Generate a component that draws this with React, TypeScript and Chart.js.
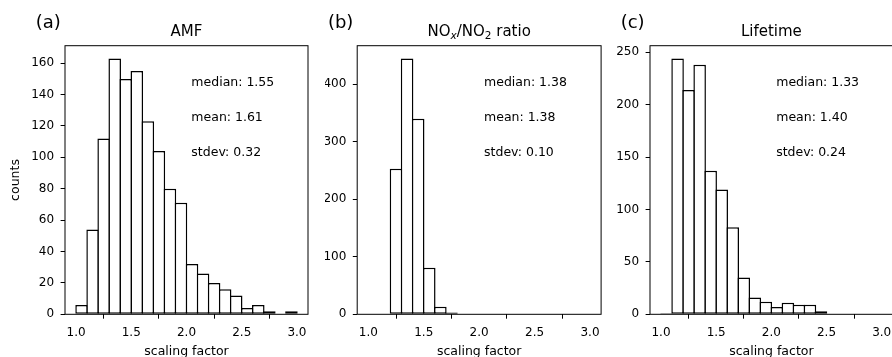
import React, { useEffect, useRef } from "react";
import { Chart, registerables } from "chart.js";

Chart.register(...registerables);

// Histogram bins (width 0.1) and their counts
const binCenters = [
  1.05, 1.15, 1.25, 1.35, 1.45, 1.55, 1.65, 1.75, 1.85, 1.95,
  2.05, 2.15, 2.25, 2.35, 2.45, 2.55, 2.65, 2.75, 2.85, 2.95,
];
const amfCounts = [6, 54, 112, 163, 150, 155, 123, 104, 80, 71, 32, 26, 20, 16, 12, 4, 6, 2, 0, 2];
const ratioCounts = [0, 0, 253, 445, 340, 81, 13, 3, 1, 1, 0, 0, 0, 0, 0, 0, 0, 0, 0, 0];
const lifetimeCounts = [1, 244, 214, 238, 137, 119, 83, 35, 16, 12, 7, 11, 9, 9, 3, 0, 0, 0, 0, 0];

const xTickValues = [1.0, 1.5, 2.0, 2.5, 3.0];
const amfYTicks = [0, 20, 40, 60, 80, 100, 120, 140, 160];
const ratioYTicks = [0, 100, 200, 300, 400];
const lifetimeYTicks = [0, 50, 100, 150, 200, 250];

const amfStats = ["median: 1.55", "mean: 1.61", "stdev: 0.32"];
const ratioStats = ["median: 1.38", "mean: 1.38", "stdev: 0.10"];
const lifetimeStats = ["median: 1.33", "mean: 1.40", "stdev: 0.24"];

const FONT = "'DejaVu Sans', sans-serif";
const PAGE_H = 357;
const PLOT_TOP = 45.7;
const PLOT_BOTTOM = 314.3;
const X_MIN = 0.9;
const X_MAX = 3.1;
const BAR_LINE = 1.5;

type TitlePart = { text: string; sub?: boolean; italic?: boolean };

interface PanelSpec {
  letter: string;
  title: TitlePart[];
  counts: number[];
  yTicks: number[];
  stats: string[];
  yLabel?: string;
  canvasLeft: number;
  canvasWidth: number;
  axisLeft: number;
  axisRight: number;
}

const panels: PanelSpec[] = [
  {
    letter: "(a)",
    title: [{ text: "AMF" }],
    counts: amfCounts,
    yTicks: amfYTicks,
    stats: amfStats,
    yLabel: "counts",
    canvasLeft: 0,
    canvasWidth: 325,
    axisLeft: 65,
    axisRight: 308,
  },
  {
    letter: "(b)",
    title: [
      { text: "NO" },
      { text: "x", sub: true, italic: true },
      { text: "/NO" },
      { text: "2", sub: true },
      { text: " ratio" },
    ],
    counts: ratioCounts,
    yTicks: ratioYTicks,
    stats: ratioStats,
    canvasLeft: 325,
    canvasWidth: 290,
    axisLeft: 357.2,
    axisRight: 601.1,
  },
  {
    letter: "(c)",
    title: [{ text: "Lifetime" }],
    counts: lifetimeCounts,
    yTicks: lifetimeYTicks,
    stats: lifetimeStats,
    canvasLeft: 615,
    canvasWidth: 292,
    axisLeft: 650,
    axisRight: 892.7,
  },
];

// Frame, panel letter, title and summary statistics
function decorPlugin(spec: PanelSpec) {
  return {
    id: "panelDecor",
    afterDatasetsDraw(chart: Chart) {
      const { ctx, chartArea: a } = chart;
      const w = a.right - a.left;
      const h = a.bottom - a.top;
      ctx.save();

      ctx.strokeStyle = "#000";
      ctx.lineWidth = 1;
      ctx.strokeRect(a.left, a.top, w, h);

      ctx.fillStyle = "#000";
      ctx.textBaseline = "alphabetic";

      // panel letter
      ctx.textAlign = "left";
      ctx.font = `18px ${FONT}`;
      ctx.fillText(spec.letter, a.left - 29.3, 27.7);

      // title, possibly with subscripts
      const mainSize = 15;
      const subSize = 10.5;
      const fontFor = (p: TitlePart) =>
        `${p.italic ? "italic " : ""}${p.sub ? subSize : mainSize}px ${FONT}`;
      let total = 0;
      const widths = spec.title.map((p) => {
        ctx.font = fontFor(p);
        const tw = ctx.measureText(p.text).width;
        total += tw;
        return tw;
      });
      let tx = a.left + w / 2 - total / 2;
      const baseY = 35.5;
      spec.title.forEach((p, i) => {
        ctx.font = fontFor(p);
        ctx.fillText(p.text, tx, p.sub ? baseY + 3.4 : baseY);
        tx += widths[i];
      });

      // statistics
      ctx.font = `12.5px ${FONT}`;
      const fracs = [0.85, 0.72, 0.59];
      spec.stats.forEach((s, i) => {
        ctx.fillText(s, a.left + 0.52 * w, a.top + (1 - fracs[i]) * h);
      });

      ctx.restore();
    },
  };
}

function HistPanel({ spec }: { spec: PanelSpec }) {
  const ref = useRef<HTMLCanvasElement>(null);

  useEffect(() => {
    const canvas = ref.current;
    if (!canvas) return;
    const axisW = spec.axisRight - spec.axisLeft;
    const binPx = (axisW / (X_MAX - X_MIN)) * 0.1;
    const yMax = Math.max(...spec.counts) * 1.05;

    const chart = new Chart(canvas, {
      type: "bar",
      data: {
        datasets: [
          {
            data: binCenters.map((x, i) => ({ x, y: spec.counts[i] })),
            backgroundColor: "#ffffff",
            borderColor: "#000000",
            borderWidth: BAR_LINE,
            borderSkipped: false,
            inflateAmount: 0,
            barPercentage: (binPx + BAR_LINE) / binPx,
            categoryPercentage: 1,
          } as any,
        ],
      },
      options: {
        animation: false,
        responsive: false,
        maintainAspectRatio: false,
        devicePixelRatio: 1,
        events: [],
        layout: {
          padding: {
            left: 0,
            top: PLOT_TOP,
            bottom: 0,
            right: spec.canvasLeft + spec.canvasWidth - spec.axisRight,
          },
        },
        plugins: {
          legend: { display: false },
          tooltip: { enabled: false },
          title: { display: false },
        },
        scales: {
          x: {
            type: "linear",
            position: "bottom",
            min: X_MIN,
            max: X_MAX,
            offset: false,
            afterBuildTicks: (scale: any) => {
              scale.ticks = xTickValues.map((v) => ({ value: v }));
            },
            afterFit: (scale: any) => {
              scale.height = PAGE_H - PLOT_BOTTOM;
            },
            ticks: {
              autoSkip: false,
              maxRotation: 0,
              padding: 6.6,
              color: "#000",
              font: { family: FONT, size: 12 },
              callback: (v: any) => Number(v).toFixed(1),
            },
            grid: {
              drawOnChartArea: false,
              drawTicks: true,
              tickLength: 4.4,
              tickColor: "#000",
              tickWidth: 1,
            },
            border: { display: false },
            title: {
              display: true,
              text: "scaling factor",
              color: "#000",
              font: { family: FONT, size: 12.5 },
              padding: { top: 0, bottom: -2.7 },
            },
          },
          y: {
            type: "linear",
            position: "left",
            min: 0,
            max: yMax,
            afterBuildTicks: (scale: any) => {
              scale.ticks = spec.yTicks.map((v) => ({ value: v }));
            },
            afterFit: (scale: any) => {
              scale.width = spec.axisLeft - spec.canvasLeft;
            },
            ticks: {
              autoSkip: false,
              padding: 6.5,
              color: "#000",
              font: { family: FONT, size: 12 },
              callback: (v: any) => String(v),
            },
            grid: {
              drawOnChartArea: false,
              drawTicks: true,
              tickLength: 4.4,
              tickColor: "#000",
              tickWidth: 1,
            },
            border: { display: false },
            title: {
              display: !!spec.yLabel,
              text: spec.yLabel || "",
              color: "#000",
              font: { family: FONT, size: 12.5 },
              padding: { top: 8.2, bottom: 0 },
            },
          },
        },
      } as any,
      plugins: [decorPlugin(spec)],
    });

    return () => chart.destroy();
  }, [spec]);

  return (
    <canvas
      ref={ref}
      width={spec.canvasWidth}
      height={PAGE_H}
      style={{
        position: "absolute",
        left: spec.canvasLeft,
        top: 0,
        width: spec.canvasWidth,
        height: PAGE_H,
      }}
    />
  );
}

export default function App() {
  return (
    <div
      style={{
        position: "fixed",
        left: 0,
        top: 0,
        width: 892,
        height: PAGE_H,
        overflow: "hidden",
        background: "#ffffff",
      }}
    >
      {panels.map((p) => (
        <HistPanel key={p.letter} spec={p} />
      ))}
    </div>
  );
}
